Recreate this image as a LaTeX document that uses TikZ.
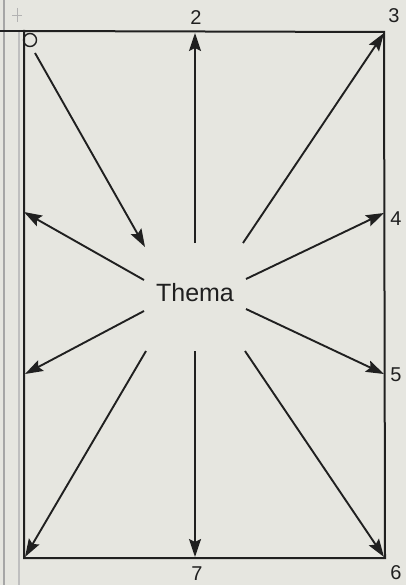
\documentclass[tikz,border=0pt]{standalone}
\usepackage{fontspec}
\setmainfont{Liberation Sans}
\usetikzlibrary{arrows.meta}
\definecolor{paper}{HTML}{E6E6E0}
\definecolor{ink}{HTML}{202020}
\tikzset{
  frame/.style={draw=ink, line width=2pt},
  ray/.style={draw=ink, line width=1.9pt, -{Stealth[length=18pt,width=12pt,inset=3pt]}},
  lbl/.style={font=\fontsize{20}{20}\selectfont, text=ink, inner sep=0pt},
}
\begin{document}
\begin{tikzpicture}[x=1pt,y=-1pt]
\fill[paper] (0,0) rectangle (406,585);
\useasboundingbox (0,0) rectangle (406,585);
% binding margin marks
\draw[gray!70, line width=2.5pt] (4,0) -- (4,585);
\draw[gray!50, line width=1.2pt] (19,30) -- (19,585);
\draw[gray!60, line width=0.9pt] (17,8) -- (17,22) (12,15) -- (22,15);
\draw[ink, line width=1.2pt] (0,31) -- (24,31);
% frame corners
\coordinate (TL) at (24,31);
\coordinate (TR) at (384,32);
\coordinate (BR) at (385,558);
\coordinate (BL) at (24,558);
\draw[frame] (TL) -- (TR) -- (BR) -- (BL) -- cycle;
\node[draw=ink, line width=1.4pt, circle, minimum size=13pt, inner sep=0pt] (c1) at (30,40) {};
% centre
\node[font=\fontsize{25}{25}\selectfont, text=ink] (thema) at (195,293) {Thema};
% ray start points
\coordinate (s1) at (145,247);
\coordinate (s2) at (195,243);
\coordinate (s3) at (243,243);
\coordinate (s4) at (246,279);
\coordinate (s5) at (246,309);
\coordinate (s6) at (245,351);
\coordinate (s7) at (195,351);
\coordinate (s8) at (146,351);
\coordinate (s9) at (144,311);
\coordinate (s10) at (144,280);
% ray end points
\coordinate (e1) at (35,53);
\coordinate (e2) at (195,33);
\coordinate (e3) at (384,33);
\coordinate (e4) at (384,213);
\coordinate (e5) at (384,374);
\coordinate (e6) at (384,557);
\coordinate (e7) at (195,557);
\coordinate (e8) at (25,557);
\coordinate (e9) at (25,374);
\coordinate (e10) at (24,212);
\draw[ray] (e1) -- (s1);
\foreach \i in {2,...,10} { \draw[ray] (s\i) -- (e\i); }
% labels
\node[lbl] (l2) at (196,18) {2};
\node[lbl] (l3) at (394,16) {3};
\node[lbl] (l4) at (396,219) {4};
\node[lbl] (l5) at (396,375) {5};
\node[lbl] (l6) at (396,573) {6};
\node[lbl] (l7) at (197,574) {7};
\end{tikzpicture}
\end{document}
